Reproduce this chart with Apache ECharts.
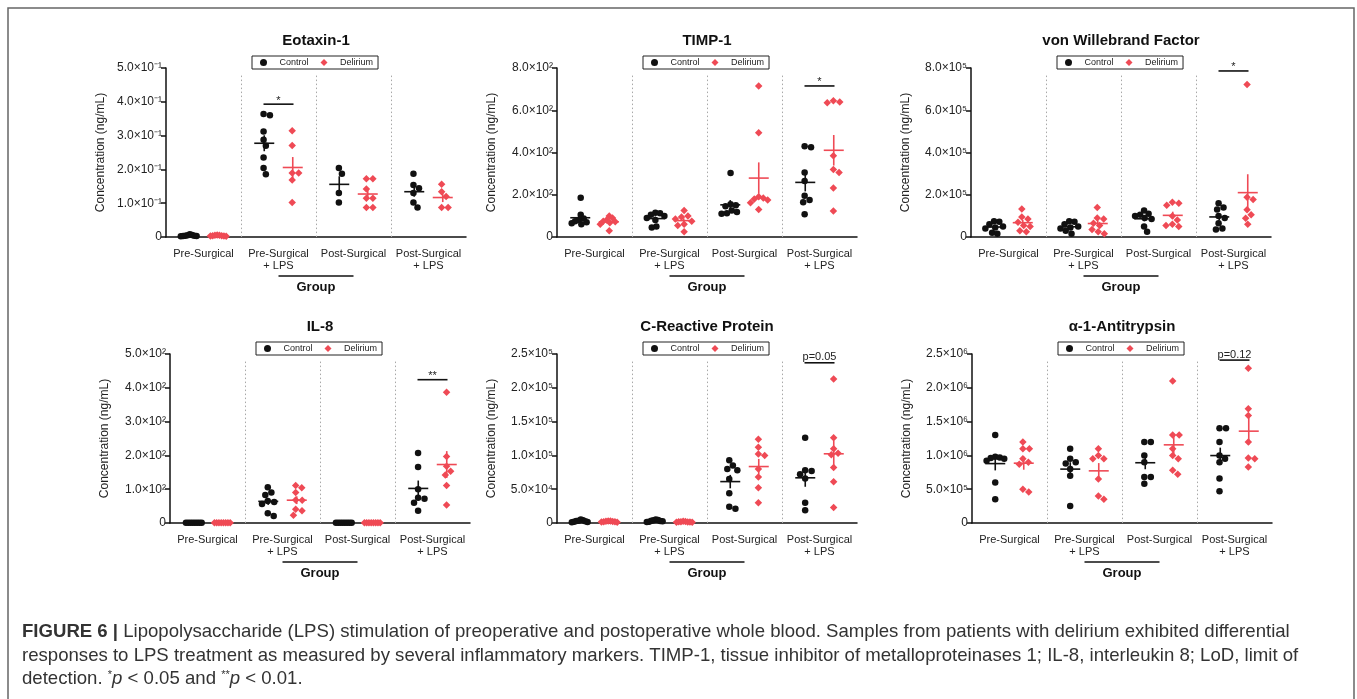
<!DOCTYPE html>
<html>
<head>
<meta charset="utf-8">
<script src="https://cdn.jsdelivr.net/npm/echarts@6/dist/echarts.min.js"></script>
<style>
html,body{margin:0;padding:0;background:#fff;}
#chart{width:1357px;height:699px;}
</style>
</head>
<body>
<div id="chart"></div>
<script>
// ---------- DATA ----------
const groups = ['Pre-Surgical', 'Pre-Surgical\n+ LPS', 'Post-Surgical', 'Post-Surgical\n+ LPS'];
const seriesNames = ['Control', 'Delirium'];
const panelTitles = ['Eotaxin-1', 'TIMP-1', 'von Willebrand Factor', 'IL-8', 'C-Reactive Protein', 'α-1-Antitrypsin'];
const yAxisName = 'Concentration (ng/mL)';
const groupAxisName = 'Group';

const eotaxinControl = [
  [0.008, 0.006, 0.005, 0.004, 0.004, 0.003, 0.003, 0.002],
  [0.360, 0.364, 0.312, 0.288, 0.270, 0.235, 0.204, 0.186],
  [0.204, 0.187, 0.130, 0.102],
  [0.187, 0.154, 0.144, 0.130, 0.102, 0.087]
];
const eotaxinDelirium = [
  [0.006, 0.005, 0.005, 0.004, 0.004, 0.003, 0.003, 0.002],
  [0.314, 0.271, 0.189, 0.189, 0.169, 0.102],
  [0.172, 0.172, 0.142, 0.115, 0.115, 0.087, 0.087],
  [0.156, 0.134, 0.120, 0.087, 0.087]
];
const timpControl = [
  [186, 105, 88, 80, 75, 70, 65, 60],
  [115, 112, 105, 100, 90, 80, 50, 45],
  [303, 155, 150, 145, 125, 118, 112, 110],
  [430, 425, 305, 265, 195, 175, 165, 108]
];
const timpDelirium = [
  [100, 90, 80, 75, 72, 68, 60, 30],
  [125, 100, 95, 85, 75, 60, 55, 25],
  [715, 494, 190, 185, 180, 175, 162, 130],
  [639, 635, 645, 385, 320, 305, 232, 123]
];
const vwfControl = [
  [75000, 72000, 60000, 50000, 45000, 40000, 20000, 15000],
  [75000, 72000, 60000, 50000, 45000, 40000, 30000, 15000],
  [125000, 110000, 105000, 100000, 90000, 85000, 50000, 25000],
  [160000, 140000, 130000, 100000, 90000, 65000, 40000, 35000]
];
const vwfDelirium = [
  [132000, 95000, 85000, 70000, 55000, 50000, 30000, 25000],
  [140000, 90000, 85000, 65000, 55000, 35000, 25000, 15000],
  [165000, 160000, 150000, 100000, 80000, 60000, 55000, 50000],
  [722000, 188000, 177000, 129000, 105000, 89000, 60000]
];
const il8Control = [
  [0.5, 0.5, 0.5, 0.5, 0.5, 0.5, 0.5, 0.5],
  [106, 90, 83, 65, 62, 56, 29, 21],
  [0.5, 0.5, 0.5, 0.5, 0.5, 0.5, 0.5, 0.5],
  [207, 166, 100, 75, 72, 60, 36]
];
const il8Delirium = [
  [0.5, 0.5, 0.5, 0.5, 0.5, 0.5, 0.5, 0.5],
  [104, 111, 90, 67, 68, 41, 23, 36],
  [0.5, 0.5, 0.5, 0.5, 0.5, 0.5, 0.5, 0.5],
  [387, 197, 168, 153, 142, 111, 53]
];
const crpControl = [
  [5000, 4000, 3500, 3000, 2500, 2000, 1500, 1000],
  [5200, 4500, 4000, 3500, 3000, 2500, 2000, 1500],
  [93000, 85000, 80000, 78000, 65000, 44000, 24000, 21000],
  [126000, 78000, 77000, 72000, 66000, 30000, 19000]
];
const crpDelirium = [
  [3000, 2800, 2500, 2200, 2000, 1800, 1500, 1200],
  [2500, 2200, 2000, 1800, 1600, 1500, 1200, 1000],
  [124000, 112000, 102000, 100000, 80000, 68000, 52000, 30000],
  [213000, 126000, 110000, 103000, 101000, 82000, 61000, 23000]
];
const a1atControl = [
  [1300000, 980000, 970000, 960000, 950000, 920000, 600000, 350000],
  [1100000, 950000, 900000, 880000, 800000, 700000, 250000],
  [1200000, 1200000, 1000000, 900000, 680000, 680000, 580000],
  [1400000, 1400000, 1200000, 1000000, 950000, 900000, 660000, 470000]
];
const a1atDelirium = [
  [1200000, 1100000, 1100000, 950000, 900000, 870000, 500000, 460000],
  [1100000, 1000000, 950000, 950000, 650000, 400000, 350000],
  [2100000, 1300000, 1300000, 1100000, 1000000, 950000, 780000, 720000],
  [2290000, 1690000, 1590000, 1200000, 960000, 950000, 830000]
];

const yMaxes = [0.5, 800, 800000, 500, 250000, 2500000];
const yIntervals = [0.1, 200, 200000, 100, 50000, 500000];
const eotaxinTicks = ['0', '1.0×10⁻¹', '2.0×10⁻¹', '3.0×10⁻¹', '4.0×10⁻¹', '5.0×10⁻¹'];
const timpTicks = ['0', '2.0×10²', '4.0×10²', '6.0×10²', '8.0×10²'];
const vwfTicks = ['0', '2.0×10⁵', '4.0×10⁵', '6.0×10⁵', '8.0×10⁵'];
const il8Ticks = ['0', '1.0×10²', '2.0×10²', '3.0×10²', '4.0×10²', '5.0×10²'];
const crpTicks = ['0', '5.0×10⁴', '1.0×10⁵', '1.5×10⁵', '2.0×10⁵', '2.5×10⁵'];
const a1atTicks = ['0', '5.0×10⁵', '1.0×10⁶', '1.5×10⁶', '2.0×10⁶', '2.5×10⁶'];

// significance: [group index, bar height (data units), label]
const sigMarks = [
  [1, 0.393, '*'],
  [3, 715, '*'],
  [3, 786000, '*'],
  [3, 424, '**'],
  [3, 237000, 'p=0.05'],
  [3, 2410000, 'p=0.12']
];

const controlSets = [eotaxinControl, timpControl, vwfControl, il8Control, crpControl, a1atControl];
const deliriumSets = [eotaxinDelirium, timpDelirium, vwfDelirium, il8Delirium, crpDelirium, a1atDelirium];
const tickSets = [eotaxinTicks, timpTicks, vwfTicks, il8Ticks, crpTicks, a1atTicks];

const captionBold = 'FIGURE 6 |';
const captionLines = [
  ' Lipopolysaccharide (LPS) stimulation of preoperative and postoperative whole blood. Samples from patients with delirium exhibited differential',
  'responses to LPS treatment as measured by several inflammatory markers. TIMP-1, tissue inhibitor of metalloproteinases 1; IL-8, interleukin 8; LoD, limit of',
  'detection. {s|*}{i|p} < 0.05 and {s|**}{i|p} < 0.01.'
];

// ---------- LAYOUT / STYLE ----------
const FONT = '"Liberation Sans", Arial, Helvetica, sans-serif';
const BLACK = '#111111';
const RED = '#ef4a55';
const colors = [BLACK, RED];
const symbols = ['circle', 'diamond'];
const symbolSizes = [6.5, 7.5];
const GW = 300, GH = 169;
const layout = [
  {left: 166, top: 68}, {left: 557, top: 68}, {left: 971, top: 68},
  {left: 170, top: 354}, {left: 557, top: 354}, {left: 972, top: 354}
];
const seriesShift = [-0.19, 0.19];
const pxPerX = GW / 4;

// beeswarm horizontal spread (pixels) to avoid overlaps
function swarm(values, pxPerY) {
  const D = 6.5, maxHalf = 9;
  const order = values.map((v, i) => i).sort((a, b) => values[b] - values[a]);
  const placed = [];
  const off = new Array(values.length).fill(0);
  order.forEach(i => {
    const y = values[i] * pxPerY;
    const near = placed.filter(q => Math.abs(q.y - y) < D);
    const cands = [0];
    near.forEach(q => {
      const dx = Math.sqrt(D * D - (q.y - y) * (q.y - y));
      cands.push(q.x + dx, q.x - dx);
    });
    cands.sort((a, b) => Math.abs(a) - Math.abs(b));
    const x = cands.find(c => near.every(q => (q.x - c) * (q.x - c) + (q.y - y) * (q.y - y) >= D * D - 1e-6));
    placed.push({x: x, y: y});
    off[i] = x;
  });
  const mx = Math.max.apply(null, off.map(Math.abs));
  if (mx > maxHalf) off.forEach((v, k) => { off[k] = v * maxHalf / mx; });
  const mean = off.reduce((a, b) => a + b, 0) / off.length;
  return off.map(v => v - mean * 0.5);
}
function meanSem(arr) {
  const n = arr.length;
  const m = arr.reduce((a, b) => a + b, 0) / n;
  const sd = Math.sqrt(arr.reduce((a, b) => a + (b - m) * (b - m), 0) / (n - 1));
  return [m, sd / Math.sqrt(n)];
}

const grid = [], xAxis = [], yAxis = [], series = [], legend = [], graphic = [];

layout.forEach((L, p) => {
  grid.push({left: L.left, top: L.top, width: GW, height: GH});
  xAxis.push({
    type: 'category', gridIndex: p, data: groups, boundaryGap: true,
    axisLine: {lineStyle: {color: BLACK, width: 1.5}},
    axisTick: {alignWithLabel: true, length: 6, lineStyle: {color: BLACK, width: 1.5}},
    axisLabel: {interval: 0, fontSize: 11, color: '#222', fontFamily: FONT, margin: 11, lineHeight: 12},
    splitLine: {show: false}
  });
  xAxis.push({type: 'value', gridIndex: p, min: 0, max: 4, show: false});
  const ticks = tickSets[p];
  yAxis.push({
    type: 'value', gridIndex: p, min: 0, max: yMaxes[p], interval: yIntervals[p],
    axisLine: {show: true, lineStyle: {color: BLACK, width: 1.5}},
    axisTick: {show: true, length: 5, lineStyle: {color: BLACK, width: 1.5}},
    axisLabel: {fontSize: 12, color: '#222', fontFamily: FONT, margin: 4,
      formatter: (v, i) => ticks[i] !== undefined ? ticks[i] : ''},
    splitLine: {show: false},
    name: yAxisName, nameLocation: 'middle', nameGap: 59,
    nameTextStyle: {fontSize: 12, color: '#222', fontFamily: FONT}
  });
  const pxPerY = GH / yMaxes[p];
  [controlSets[p], deliriumSets[p]].forEach((sets, s) => {
    const pts = [], stats = [];
    sets.forEach((vals, g) => {
      const off = swarm(vals, pxPerY);
      const cx = g + 0.5 + seriesShift[s];
      vals.forEach((v, k) => pts.push([cx + off[k] / pxPerX, v]));
      const ms = meanSem(vals);
      stats.push([cx, ms[0], ms[1]]);
    });
    const sc = {
      name: seriesNames[s], type: 'scatter', xAxisIndex: 2 * p + 1, yAxisIndex: p,
      data: pts, symbol: symbols[s], symbolSize: symbolSizes[s],
      itemStyle: {color: colors[s], opacity: 1}, z: 2, silent: true
    };
    if (s === 0) {
      sc.markLine = {
        silent: true, symbol: 'none', label: {show: false},
        lineStyle: {type: [1.5, 2.5], color: '#a8a8a8', width: 1},
        data: [1, 2, 3].map(g => [{coord: [g, yMaxes[p] * 0.955]}, {coord: [g, 0]}])
      };
    }
    series.push(sc);
    const col = colors[s];
    series.push({
      type: 'custom', xAxisIndex: 2 * p + 1, yAxisIndex: p, data: stats, z: 3, silent: true,
      renderItem: (params, api) => {
        const x = api.value(0), m = api.value(1), e = api.value(2);
        const c = api.coord([x, m]);
        const t = api.coord([x, m + e]);
        const b = api.coord([x, Math.max(0, m - e)]);
        return {type: 'group', children: [
          {type: 'line', shape: {x1: c[0] - 10, y1: c[1], x2: c[0] + 10, y2: c[1]}, style: {stroke: col, lineWidth: 1.6}},
          {type: 'line', shape: {x1: c[0], y1: t[1], x2: c[0], y2: b[1]}, style: {stroke: col, lineWidth: 1.6}}
        ]};
      }
    });
  });
  series.push({
    type: 'custom', xAxisIndex: 2 * p + 1, yAxisIndex: p, silent: true, z: 4,
    data: [[sigMarks[p][0], sigMarks[p][1]]],
    renderItem: (params, api) => {
      const g = api.value(0), y = api.value(1);
      const a = api.coord([g + 0.5 + seriesShift[0] - 0.01, y]);
      const b = api.coord([g + 0.5 + seriesShift[1] + 0.01, y]);
      const txt = sigMarks[p][2];
      const star = txt.indexOf('*') >= 0;
      return {type: 'group', children: [
        {type: 'line', shape: {x1: a[0], y1: a[1], x2: b[0], y2: b[1]}, style: {stroke: BLACK, lineWidth: 1.6}},
        {type: 'text', x: (a[0] + b[0]) / 2, y: a[1] - (star ? -2 : 0),
          style: {text: txt, fill: '#222', align: 'center', verticalAlign: 'bottom', font: '11px ' + FONT}}
      ]};
    }
  });
  legend.push({
    left: L.left + 86, top: L.top - 12,
    data: [{name: 'Control', icon: 'circle'}, {name: 'Delirium', icon: 'diamond'}],
    itemWidth: 7, itemHeight: 7, itemGap: 12,
    formatter: n => '   ' + n,
    textStyle: {fontSize: 9, color: '#222', fontFamily: FONT},
    borderColor: '#222', borderWidth: 1, padding: [2, 5, 2, 8], backgroundColor: '#fff',
    selectedMode: false
  });
  const cx = L.left + GW / 2;
  graphic.push({type: 'text', x: cx, y: L.top - 27,
    style: {text: panelTitles[p], fill: '#111', align: 'center', verticalAlign: 'middle', font: 'bold 15px ' + FONT}});
  graphic.push({type: 'line', shape: {x1: L.left + 1.5 * pxPerX, y1: L.top + GH + 39, x2: L.left + 2.5 * pxPerX, y2: L.top + GH + 39},
    style: {stroke: BLACK, lineWidth: 1.5}});
  graphic.push({type: 'text', x: cx, y: L.top + GH + 50,
    style: {text: groupAxisName, fill: '#111', align: 'center', verticalAlign: 'middle', font: 'bold 13px ' + FONT}});
});

// frame
graphic.push({type: 'polyline', shape: {points: [[8, 699], [8, 8], [1354, 8], [1354, 699]]},
  style: {stroke: '#666', lineWidth: 1.5, fill: null}});

// caption: fit font size so that the first line spans the same width as in the figure
const mctx = document.createElement('canvas').getContext('2d');
mctx.font = 'bold 16px ' + FONT;
const boldW = mctx.measureText(captionBold).width;
mctx.font = '16px ' + FONT;
const regW16 = mctx.measureText(captionLines[0]).width;
const capFs = Math.max(14, Math.min(20, 16 * 1268 / (boldW + regW16)));
const capY = [632, 656, 679];
captionLines.forEach((t, i) => {
  const text = i === 0 ? '{b|' + captionBold + '}' + t : t;
  graphic.push({type: 'text', x: 22, y: capY[i], style: {
    text: text, fill: '#333', align: 'left', verticalAlign: 'middle', font: capFs.toFixed(2) + 'px ' + FONT,
    rich: {
      b: {fontWeight: 'bold', fontSize: capFs, fontFamily: FONT, fill: '#333'},
      i: {fontStyle: 'italic', fontSize: capFs, fontFamily: FONT, fill: '#333'},
      s: {fontSize: 11, fontFamily: FONT, fill: '#333', verticalAlign: 'top', lineHeight: 18}
    }
  }});
});

const chart = echarts.init(document.getElementById('chart'), null, {renderer: 'canvas'});
chart.setOption({
  backgroundColor: '#fff',
  animation: false,
  grid, xAxis, yAxis, series, legend, graphic
});
</script>
</body>
</html>
